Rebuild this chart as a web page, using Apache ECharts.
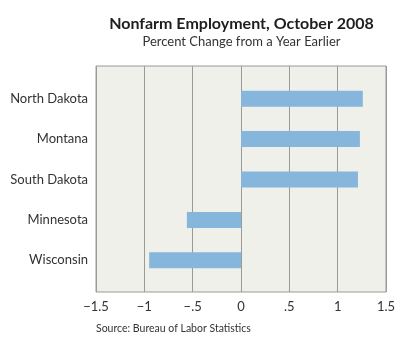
<!DOCTYPE html>
<html><head><meta charset="utf-8">
<script src="https://cdn.jsdelivr.net/npm/echarts@6/dist/echarts.min.js"></script>
<style>html,body{margin:0;padding:0;background:#fff}#c{width:415px;height:342px}</style>
</head><body><div id="c"></div>
<script>
const categories = ["North Dakota", "Montana", "South Dakota", "Minnesota", "Wisconsin"];
const values = [1.26, 1.23, 1.21, -0.56, -0.95];
const tickLabels = {"-1.5": "\u22121.5", "-1": "\u22121", "-0.5": "\u2212.5", "0": "0", "0.5": ".5", "1": "1", "1.5": "1.5"};
const titleText = "Nonfarm Employment, October 2008";
const subtitleText = "Percent Change from a Year Earlier";
const sourceText = "Source: Bureau of Labor Statistics";

const font = "Lato, 'DejaVu Sans', sans-serif";
const chart = echarts.init(document.getElementById('c'), null, {renderer: 'canvas'});
chart.setOption({
  animation: false,
  title: [
    {text: titleText, left: 241.5, top: 16, textAlign: 'center', padding: 0,
     textStyle: {fontFamily: font, fontSize: 16, fontWeight: 'bold', color: '#1e1e1e'}},
    {text: subtitleText, left: 241.5, top: 35, textAlign: 'center', padding: 0,
     textStyle: {fontFamily: font, fontSize: 13, fontWeight: 'normal', color: '#333'}},
    {text: sourceText, left: 96, top: 323, padding: 0,
     textStyle: {fontFamily: font, fontSize: 10.5, fontWeight: 'normal', color: '#333'}}
  ],
  grid: [
    {left: 96, right: 29, top: 66, bottom: 50, show: true, backgroundColor: '#eff0ea', borderColor: '#9a9a9a', borderWidth: 1},
    {left: 96, right: 29, top: 78.5, bottom: 61.5}
  ],
  xAxis: [
    {gridIndex: 0, type: 'value', min: -1.5, max: 1.5, interval: 0.5,
     axisLine: {show: false}, axisTick: {show: false},
     splitLine: {show: true, lineStyle: {color: '#9a9a9a', width: 1}},
     axisLabel: {fontFamily: font, fontSize: 13, color: '#333', margin: 8,
       formatter: v => tickLabels[String(v)] ?? String(v)}},
    {gridIndex: 1, type: 'value', min: -1.5, max: 1.5, interval: 0.5, show: false}
  ],
  yAxis: [
    {gridIndex: 0, type: 'value', show: false},
    {gridIndex: 1, type: 'category', data: categories, inverse: true,
     axisLine: {show: false}, axisTick: {show: false}, splitLine: {show: false},
     axisLabel: {fontFamily: font, fontSize: 13, color: '#333', margin: 8}}
  ],
  series: [{
    type: 'bar', xAxisIndex: 1, yAxisIndex: 1, data: values,
    barWidth: 16, itemStyle: {color: '#86b6dc'}
  }]
});
</script></body></html>
